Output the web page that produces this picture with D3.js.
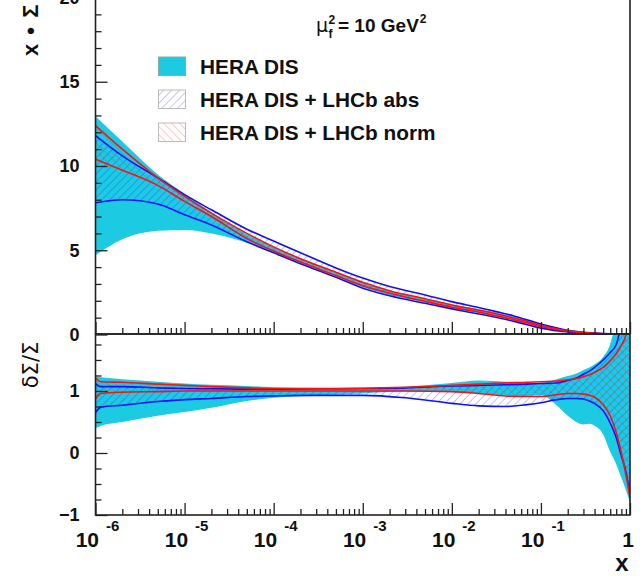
<!DOCTYPE html>
<meta charset="utf-8" />
<title>x Sigma, HERA DIS vs HERA DIS + LHCb</title>
<script src="https://d3js.org/d3.v7.min.js"></script>
<style>
  body { margin: 0; background: #fff; }
  svg { display: block; font-family: "Liberation Sans", Arial, sans-serif; }
</style>
<svg id="chart" width="644" height="577"></svg>

<script>
  // ---- values ----

  // upper pad: x * Sigma
  var topX       = [1e-6, 2e-6, 5e-6, 1e-5, 2e-5, 5e-5, 1e-4, 2e-4, 5e-4, 1e-3, 2e-3, 5e-3, 1e-2, 2e-2, 5e-2, 0.1, 0.2, 0.4, 0.7, 1];
  var topHeraLo  = [4.7, 5.65, 6.15, 6.2, 6.0, 5.45, 4.85, 4.25, 3.45, 2.8, 2.35, 1.9, 1.55, 1.27, 0.82, 0.42, 0.16, 0.05, 0.01, 0];
  var topHeraHi  = [12.95, 11.45, 9.5, 8.35, 7.25, 5.95, 5.2, 4.5, 3.7, 3.08, 2.6, 2.12, 1.78, 1.5, 1.05, 0.6, 0.24, 0.08, 0.02, 0];
  var topAbsLo   = [7.82, 8.0, 7.75, 7.1, 6.5, 5.5, 4.85, 4.2, 3.4, 2.75, 2.3, 1.85, 1.52, 1.22, 0.78, 0.38, 0.15, 0.05, 0.01, 0];
  var topAbsHi   = [11.8, 10.6, 9.3, 8.3, 7.4, 6.25, 5.55, 4.85, 3.95, 3.35, 2.85, 2.35, 1.95, 1.6, 1.1, 0.62, 0.25, 0.08, 0.02, 0];
  var topNormLo  = [10.4, 9.75, 8.85, 7.9, 7.0, 5.7, 4.95, 4.3, 3.5, 2.9, 2.45, 1.97, 1.62, 1.33, 0.88, 0.47, 0.19, 0.06, 0.012, 0];
  var topNormHi  = [12.4, 11.0, 9.3, 8.2, 7.2, 6.0, 5.2, 4.5, 3.7, 3.1, 2.6, 2.12, 1.75, 1.45, 0.98, 0.55, 0.22, 0.07, 0.015, 0];

  // lower pad: relative uncertainty
  var ratX       = [1e-6, 1.15e-6, 2e-6, 5e-6, 1e-5, 2e-5, 5e-5, 1e-4, 3e-4, 1e-3, 3e-3, 1e-2, 2e-2, 4e-2, 7e-2, 0.1, 0.15, 0.2, 0.25, 0.3, 0.35, 0.4, 0.5, 0.6, 0.7, 0.8, 0.9, 1];
  var ratHeraLo  = [0.40, 0.44, 0.50, 0.60, 0.66, 0.73, 0.84, 0.89, 0.93, 0.96, 0.99, 0.99, 0.96, 0.93, 0.92, 0.93, 0.77, 0.60, 0.50, 0.46, 0.47, 0.44, 0.30, 0.02, -0.18, -0.40, -0.60, -0.80];
  var ratHeraHi  = [1.23, 1.22, 1.19, 1.15, 1.12, 1.10, 1.08, 1.06, 1.05, 1.05, 1.07, 1.13, 1.17, 1.15, 1.13, 1.13, 1.19, 1.24, 1.28, 1.34, 1.38, 1.43, 1.55, 1.76, 2.2, 3.0, 3.0, 3.0];
  var ratAbsLo   = [0.65, 0.74, 0.77, 0.83, 0.86, 0.88, 0.91, 0.92, 0.93, 0.93, 0.89, 0.80, 0.76, 0.75, 0.78, 0.81, 0.86, 0.88, 0.88, 0.87, 0.84, 0.80, 0.68, 0.48, 0.25, -0.05, -0.30, -0.68];
  var ratAbsHi   = [1.12, 1.07, 1.07, 1.05, 1.04, 1.035, 1.03, 1.03, 1.035, 1.04, 1.05, 1.08, 1.09, 1.10, 1.11, 1.12, 1.13, 1.17, 1.21, 1.27, 1.32, 1.38, 1.50, 1.62, 1.75, 2.1, 2.6, 3.0];
  var ratNormLo  = [0.87, 0.96, 0.98, 0.99, 1.0, 1.0, 1.0, 1.0, 1.0, 1.0, 1.0, 0.99, 0.96, 0.92, 0.91, 0.91, 0.94, 0.96, 0.96, 0.95, 0.93, 0.90, 0.78, 0.60, 0.33, 0.0, -0.35, -0.72];
  var ratNormHi  = [1.21, 1.15, 1.14, 1.11, 1.09, 1.07, 1.05, 1.04, 1.04, 1.045, 1.06, 1.09, 1.11, 1.13, 1.14, 1.15, 1.16, 1.18, 1.20, 1.23, 1.26, 1.30, 1.38, 1.49, 1.60, 1.74, 1.90, 2.3];

  var legendLabels = ["HERA DIS", "HERA DIS + LHCb abs", "HERA DIS + LHCb norm"];
  var topYTicks    = [0, 5, 10, 15, 20];
  var botYTicks    = [-1, 0, 1];
  var xExponents   = [-6, -5, -4, -3, -2, -1];

  // ---- colours ----
  var cyan = "#1ccae2";
  var blue = "#1010ff";
  var red  = "#ff1010";

  // ---- layout ----
  var left = 95.5, right = 630;
  var svg = d3.select("#chart");

  var x = d3.scaleLog().domain([1e-6, 1]).range([left, right]);
  var yTop = d3.scaleLinear().domain([0, 20]).range([334.5, -2.5]);
  var yBot = d3.scaleLinear().domain([-1, 1.919]).range([515, 334]);

  var defs = svg.append("defs");
  function hatch(id, color, angle) {
    var p = defs.append("pattern")
      .attr("id", id)
      .attr("patternUnits", "userSpaceOnUse")
      .attr("width", 5.6).attr("height", 5.6)
      .attr("patternTransform", "rotate(" + angle + ")");
    p.append("line")
      .attr("x1", 0).attr("y1", 0).attr("x2", 0).attr("y2", 5.6)
      .attr("stroke", color).attr("stroke-width", 1.1);
  }
  hatch("hatchAbs", "rgba(40,40,255,0.55)", 45);
  hatch("hatchNorm", "rgba(255,40,40,0.5)", -45);
  hatch("hatchAbsLeg", "rgba(60,60,255,0.5)", 45);
  hatch("hatchNormLeg", "rgba(255,60,60,0.5)", -45);

  defs.append("clipPath").attr("id", "clipTop")
    .append("rect").attr("x", left).attr("y", -10).attr("width", right - left).attr("height", 344.5);
  defs.append("clipPath").attr("id", "clipBot")
    .append("rect").attr("x", left).attr("y", 334).attr("width", right - left).attr("height", 181);

  function drawPad(clipId, xs, y, hera, abs, norm) {
    var g = svg.append("g").attr("clip-path", "url(#" + clipId + ")");
    function band(lo, hi) {
      return d3.area()
        .x(function(d, i) { return x(xs[i]); })
        .y0(function(d, i) { return y(lo[i]); })
        .y1(function(d, i) { return y(hi[i]); })
        .curve(d3.curveMonotoneX)(xs);
    }
    function edge(vals) {
      return d3.line()
        .x(function(d, i) { return x(xs[i]); })
        .y(function(d, i) { return y(vals[i]); })
        .curve(d3.curveMonotoneX)(xs);
    }
    g.append("path").attr("d", band(hera[0], hera[1])).attr("fill", cyan);
    g.append("path").attr("d", band(abs[0], abs[1])).attr("fill", "url(#hatchAbs)");
    g.append("path").attr("d", band(norm[0], norm[1])).attr("fill", "url(#hatchNorm)");
    [abs[0], abs[1]].forEach(function(v) {
      g.append("path").attr("d", edge(v)).attr("fill", "none").attr("stroke", blue).attr("stroke-width", 1.6);
    });
    [norm[0], norm[1]].forEach(function(v) {
      g.append("path").attr("d", edge(v)).attr("fill", "none").attr("stroke", red).attr("stroke-width", 1.6);
    });
  }

  drawPad("clipTop", topX, yTop, [topHeraLo, topHeraHi], [topAbsLo, topAbsHi], [topNormLo, topNormHi]);
  drawPad("clipBot", ratX, yBot, [ratHeraLo, ratHeraHi], [ratAbsLo, ratAbsHi], [ratNormLo, ratNormHi]);

  // ---- axes ----
  var majorX = xExponents.map(function(e) { return Math.pow(10, e); }).concat([1]);
  var minorX = [];
  xExponents.forEach(function(e) {
    for (var k = 2; k <= 9; k++) minorX.push(k * Math.pow(10, e));
  });

  function xTicks(yPos) {
    svg.append("g").attr("class", "axis").attr("transform", "translate(0," + yPos + ")")
      .call(d3.axisBottom(x).tickValues(majorX).tickSize(-12).tickFormat(""));
    svg.append("g").attr("class", "axis").attr("transform", "translate(0," + yPos + ")")
      .call(d3.axisBottom(x).tickValues(minorX).tickSize(-6).tickFormat(""));
  }
  xTicks(334);
  xTicks(515);

  function yAxis(scale, majors, step, lo, hi) {
    var minors = d3.range(lo, hi + 1e-9, step).filter(function(v) {
      return majors.indexOf(Math.round(v * 100) / 100) < 0;
    });
    svg.append("g").attr("class", "axis").attr("transform", "translate(" + left + ",0)")
      .call(d3.axisLeft(scale).tickValues(minors).tickSize(-6).tickFormat(""));
    svg.append("g").attr("class", "axis ylab").attr("transform", "translate(" + left + ",0)")
      .call(d3.axisLeft(scale).tickValues(majors).tickSize(-12).tickPadding(16).tickFormat(d3.format("d")));
  }
  yAxis(yTop, topYTicks, 1, 0, 20);
  yAxis(yBot, botYTicks, 0.25, -1, 1.75);

  svg.selectAll(".axis path.domain").remove();
  svg.selectAll(".axis line").attr("stroke", "#222").attr("stroke-width", 1.3);
  svg.selectAll(".ylab text")
    .attr("font-size", 18).attr("font-weight", "bold").attr("fill", "#111")
    .attr("font-family", "Liberation Sans, Arial, sans-serif");

  // frames
  svg.append("path")
    .attr("d", "M" + left + ",-5V334 M" + right + ",-5V334 M" + left + ",334H" + right)
    .attr("stroke", "#222").attr("stroke-width", 1.6).attr("fill", "none");
  svg.append("rect")
    .attr("x", left).attr("y", 334).attr("width", right - left).attr("height", 181)
    .attr("stroke", "#222").attr("stroke-width", 1.6).attr("fill", "none");

  // x tick labels: 10^n
  var xl = svg.append("g").attr("font-weight", "bold").attr("fill", "#111");
  xExponents.forEach(function(e) {
    var px = x(Math.pow(10, e));
    xl.append("text").attr("x", px + 3.5).attr("y", 547).attr("text-anchor", "end")
      .attr("font-size", 21).text("10");
    xl.append("text").attr("x", px + 10.5).attr("y", 531).attr("text-anchor", "start")
      .attr("font-size", 15).text(String(e));
  });
  xl.append("text").attr("x", x(1) - 2).attr("y", 547).attr("text-anchor", "middle")
    .attr("font-size", 21).text("1");
  xl.append("text").attr("x", 622).attr("y", 571).attr("text-anchor", "middle")
    .attr("font-size", 24).text("x");

  // y titles
  svg.append("text")
    .attr("transform", "translate(38,56) rotate(-90)")
    .attr("font-size", 22).attr("font-weight", "bold").attr("fill", "#111")
    .attr("word-spacing", 3)
    .text("x • Σ");
  svg.append("text")
    .attr("transform", "translate(38,365) rotate(-90)")
    .attr("text-anchor", "middle")
    .attr("font-family", "DejaVu Sans, sans-serif")
    .attr("font-size", 21).attr("fill", "#111")
    .text("δΣ/Σ");

  // scale annotation
  var ann = svg.append("g").attr("font-weight", "bold").attr("fill", "#111");
  ann.append("text").attr("x", 316).attr("y", 32).attr("font-size", 19).attr("font-weight", "normal")
    .attr("font-family", "DejaVu Sans, sans-serif").text("μ");
  ann.append("text").attr("x", 328.5).attr("y", 24).attr("font-size", 12).text("2");
  ann.append("text").attr("x", 328.5).attr("y", 38).attr("font-size", 12).text("f");
  var annMain = ann.append("text").attr("x", 338).attr("y", 32).attr("font-size", 19)
    .attr("xml:space", "preserve").text("= 10 GeV");
  var annEnd = 338 + annMain.node().getComputedTextLength();
  ann.append("text").attr("x", annEnd + 1).attr("y", 23).attr("font-size", 12).text("2");

  // legend
  var legFills = [cyan, "url(#hatchAbsLeg)", "url(#hatchNormLeg)"];
  var legStroke = ["#8aa", "#bbb", "#bbb"];
  var legTop = [57, 90, 123];
  var leg = svg.append("g");
  legendLabels.forEach(function(lbl, i) {
    leg.append("rect").attr("x", 158.5).attr("y", legTop[i]).attr("width", 27).attr("height", 18.5)
      .attr("fill", legFills[i]).attr("stroke", legStroke[i]).attr("stroke-width", 1);
    leg.append("text").attr("x", 200).attr("y", legTop[i] + 16.5)
      .attr("font-size", 20.8).attr("font-weight", "bold").attr("fill", "#111").text(lbl);
  });
</script>
